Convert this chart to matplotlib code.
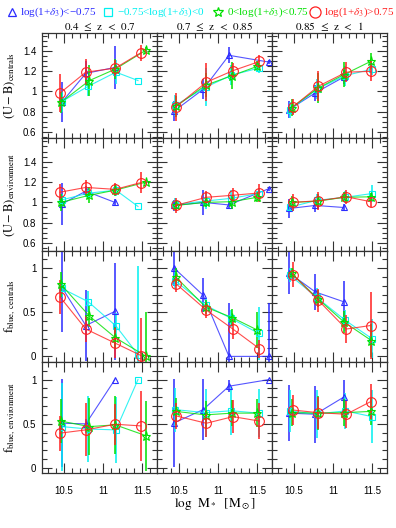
import matplotlib
matplotlib.use("Agg")
import matplotlib.pyplot as plt
from matplotlib.ticker import MultipleLocator

plt.rcParams['mathtext.fontset'] = 'stix'

# ---------------- data ----------------
series_names = [r'log(1+$\delta_3$)<−0.75',
                r'−0.75<log(1+$\delta_3$)<0',
                r'0<log(1+$\delta_3$)<0.75',
                r'log(1+$\delta_3$)>0.75']
col_titles = [r'$\mathrm{0.4\ \,\leq\ \,z\ \,<\ \,0.7}$',
              r'$\mathrm{0.7\ \,\leq\ \,z\ \,<\ \,0.85}$',
              r'$\mathrm{0.85\ \,\leq\ \,z\ \,<\ \,1}$']
row_labels = [r'$\mathrm{(U-B)_{centrals}}$',
              r'$\mathrm{(U-B)_{environment}}$',
              r'$\mathrm{f_{blue,\ centrals}}$',
              r'$\mathrm{f_{blue,\ environment}}$']

# stellar-mass positions, per series, per redshift column
x_blue = [[10.476, 10.78, 11.152], [10.44, 10.81, 11.14, 11.65], [10.44, 10.775, 11.134]]
x_cyan = [[10.476, 10.81, 11.165, 11.447], [10.45, 10.84, 11.17, 11.52], [10.45, 10.79, 11.155, 11.50]]
x_green = [[10.46, 10.826, 11.156, 11.553], [10.46, 10.84, 11.18, 11.50], [10.47, 10.805, 11.14, 11.49]]
x_red = [[10.45, 10.78, 11.156, 11.485], [10.46, 10.85, 11.19, 11.53], [10.49, 10.81, 11.17, 11.48]]

# (U-B) centrals
ubc_blue = [[0.895, 1.178, 1.237], [0.805, 1.02, 1.357, 1.29], [0.82, 0.986, 1.14]]
ubc_blue_e = [[0.2, 0.12, 0.21], [0.1, 0.1, 0.08, 0.02], [0.08, 0.08, 0.07]]
ubc_cyan = [[0.90, 1.05, 1.19, 1.107], [0.86, 1.04, 1.16, 1.23], [0.815, 1.02, 1.156, 1.22]]
ubc_cyan_e = [[0.1, 0.1, 0.12, 0.0], [0.1, 0.19, 0.1, 0.05], [0.08, 0.1, 0.1, 0.06]]
ubc_green = [[0.89, 1.107, 1.22, 1.41], [0.85, 1.06, 1.156, 1.247], [0.84, 1.03, 1.166, 1.30]]
ubc_green_e = [[0.1, 0.15, 0.1, 0.03], [0.1, 0.12, 0.13, 0.05], [0.08, 0.15, 0.12, 0.08]]
ubc_red = [[0.983, 1.19, 1.23, 1.383], [0.847, 1.09, 1.205, 1.296], [0.847, 1.05, 1.19, 1.198]]
ubc_red_e = [[0.19, 0.13, 0.08, 0.08], [0.14, 0.19, 0.08, 0.06], [0.08, 0.15, 0.1, 0.1]]

# (U-B) environment
ube_blue = [[0.985, 1.11, 1.0], [0.97, 1.0, 0.975, 1.135], [0.94, 0.97, 0.95]]
ube_blue_e = [[0.21, 0.05, 0.03], [0.05, 0.12, 0.03, 0.02], [0.09, 0.06, 0.03]]
ube_cyan = [[1.025, 1.09, 1.12, 0.96], [0.98, 1.013, 1.04, 1.087], [0.953, 1.02, 1.05, 1.087]]
ube_cyan_e = [[0.06, 0.06, 0.06, 0.0], [0.06, 0.08, 0.08, 0.05], [0.05, 0.06, 0.06, 0.08]]
ube_green = [[1.0, 1.07, 1.12, 1.2], [0.97, 1.0, 1.007, 1.05], [1.0, 1.012, 1.05, 1.055]]
ube_green_e = [[0.08, 0.08, 0.06, 0.02], [0.05, 0.05, 0.07, 0.05], [0.06, 0.07, 0.05, 0.04]]
ube_red = [[1.10, 1.147, 1.128, 1.195], [0.97, 1.05, 1.07, 1.093], [1.0, 1.016, 1.055, 1.007]]
ube_red_e = [[0.08, 0.07, 0.06, 0.1], [0.07, 0.06, 0.07, 0.09], [0.08, 0.09, 0.07, 0.05]]

# f_blue centrals
fbc_blue = [[0.78, 0.35, 0.51], [1.0, 0.693, 0.0, 0.0], [0.944, 0.73, 0.62]]
fbc_blue_e = [[0.5, 0.4, 0.55], [0.2, 0.19, 0.6, 0.6], [0.24, 0.2, 0.23]]
fbc_cyan = [[0.77, 0.62, 0.345, 0.02], [0.86, 0.58, 0.43, 0.26], [0.92, 0.67, 0.41, 0.2]]
fbc_cyan_e = [[0.1, 0.12, 0.15, 1.0], [0.1, 0.08, 0.1, 0.3], [0.08, 0.1, 0.12, 0.22]]
fbc_green = [[0.817, 0.457, 0.213, 0.0], [0.9, 0.56, 0.44, 0.30], [0.94, 0.655, 0.39, 0.18]]
fbc_green_e = [[0.14, 0.12, 0.12, 0.5], [0.1, 0.08, 0.1, 0.2], [0.06, 0.1, 0.12, 0.19]]
fbc_red = [[0.674, 0.31, 0.15, 0.01], [0.825, 0.525, 0.31, 0.087], [0.925, 0.637, 0.31, 0.35]]
fbc_red_e = [[0.19, 0.15, 0.17, 0.42], [0.1, 0.09, 0.11, 0.1], [0.14, 0.13, 0.16, 0.38]]

# f_blue environment
fbe_blue = [[0.506, 0.498, 1.0], [0.51, 0.66, 0.925, 1.0], [0.62, 0.607, 0.8]]
fbe_blue_e = [[0.5, 0.05, 0.0], [0.5, 0.35, 0.07, 0.0], [0.32, 0.32, 0.19]]
fbe_cyan = [[0.467, 0.44, 0.43, 1.0], [0.66, 0.625, 0.647, 0.62], [0.645, 0.61, 0.645, 0.58]]
fbe_cyan_e = [[0.5, 0.37, 0.37, 0.0], [0.25, 0.27, 0.27, 0.27], [0.24, 0.27, 0.2, 0.3]]
fbe_green = [[0.53, 0.467, 0.487, 0.363], [0.64, 0.6, 0.62, 0.62], [0.625, 0.62, 0.625, 0.64]]
fbe_green_e = [[0.25, 0.32, 0.33, 0.4], [0.15, 0.16, 0.15, 0.16], [0.15, 0.19, 0.15, 0.15]]
fbe_red = [[0.393, 0.43, 0.494, 0.475], [0.59, 0.505, 0.58, 0.53], [0.655, 0.625, 0.607, 0.75]]
fbe_red_e = [[0.2, 0.3, 0.23, 0.4], [0.15, 0.15, 0.19, 0.2], [0.17, 0.18, 0.15, 0.2]]

xticks = [10.5, 11, 11.5]
xticklabels = ['10.5', '11', '11.5']

# ---------------- styling ----------------
colors = ['#2b2bff', '#00f0f0', '#00e000', '#ff2020']
markers = ['^', 's', '*', 'o']
msizes = [5, 4.5, 6.5, 7]
xs = [x_blue, x_cyan, x_green, x_red]
rows = [
    ([ubc_blue, ubc_cyan, ubc_green, ubc_red], [ubc_blue_e, ubc_cyan_e, ubc_green_e, ubc_red_e]),
    ([ube_blue, ube_cyan, ube_green, ube_red], [ube_blue_e, ube_cyan_e, ube_green_e, ube_red_e]),
    ([fbc_blue, fbc_cyan, fbc_green, fbc_red], [fbc_blue_e, fbc_cyan_e, fbc_green_e, fbc_red_e]),
    ([fbe_blue, fbe_cyan, fbe_green, fbe_red], [fbe_blue_e, fbe_cyan_e, fbe_green_e, fbe_red_e]),
]
ylims = [(0.535, 1.575), (0.525, 1.63), (-0.067, 1.198), (-0.062, 1.196)]
yminor = [0.05, 0.05, 0.1, 0.1]
yticklabs = [['0.6', '0.8', '1', '1.2', '1.4'], ['0.6', '0.8', '1', '1.2', '1.4'],
             ['0', '0.5', '1'], ['0', '0.5', '1']]
ytickvals = [[0.6, 0.8, 1.0, 1.2, 1.4], [0.6, 0.8, 1.0, 1.2, 1.4], [0, 0.5, 1], [0, 0.5, 1]]

W, H = 396, 528
fig = plt.figure(figsize=(W / 100, H / 100), dpi=100)

col_x0 = [42, 157, 272]
col_w = 115
row_edges = [33.3, 138.3, 250.7, 362.3, 473.3]

tickfont = 'Liberation Sans'

for r in range(4):
    for c in range(3):
        top = row_edges[r]
        bot = row_edges[r + 1]
        ax = fig.add_axes([col_x0[c] / W, 1 - bot / H, col_w / W, (bot - top) / H])
        vals, errs = rows[r]
        for s in range(4):
            xv = xs[s][c]
            yv = vals[s][c]
            ev = errs[s][c]
            ax.errorbar(xv, yv, yerr=ev, fmt='none', ecolor=colors[s], elinewidth=1.3,
                        capsize=0, alpha=0.85, zorder=2 + s)
            ax.plot(xv, yv, '-', color=colors[s], lw=0.8, alpha=0.8, zorder=3 + s)
            ax.plot(xv, yv, linestyle='none', marker=markers[s], ms=msizes[s],
                    mfc='none', mec=colors[s], mew=0.8, zorder=4 + s)
        ax.set_xlim(10.22, 11.69)
        ax.set_ylim(*ylims[r])
        ax.set_xticks(xticks)
        ax.xaxis.set_minor_locator(MultipleLocator(0.1))
        ax.set_yticks(ytickvals[r])
        ax.yaxis.set_minor_locator(MultipleLocator(yminor[r]))
        ax.tick_params(which='both', direction='in', top=True, right=True,
                       color='#333333', width=0.8)
        ax.tick_params(which='major', length=7)
        ax.tick_params(which='minor', length=3.5)
        for sp in ax.spines.values():
            sp.set_color('#333333')
            sp.set_linewidth(0.9)
        if r == 3:
            ax.set_xticklabels(xticklabels, fontsize=7, family=tickfont)
            ax.tick_params(axis='x', pad=9)
        else:
            ax.set_xticklabels([])
        if c == 0:
            ax.set_yticklabels(yticklabs[r], fontsize=7, family=tickfont)
            ax.tick_params(axis='y', pad=4)
            ax.set_ylabel(row_labels[r], fontsize=9, labelpad=4)
        else:
            ax.set_yticklabels([])
        if r == 0:
            ax.set_title(col_titles[c], fontsize=8, pad=2.5)

# xlabel
fig.text(215 / W, 1 - 504 / H, r'$\mathrm{log\ \ M_*\ \ [M_\odot]}$', fontsize=9.5,
         ha='center', va='center')

# legend row at the top
leg_marker_x = [12, 108, 218, 315]
leg_text_x = [20, 117, 227, 324]
leg_y = 12
for s in range(4):
    fig.lines.append(plt.Line2D([leg_marker_x[s] / W], [1 - leg_y / H], marker=markers[s],
                                ms=msizes[s] + 1, mfc='none', mec=colors[s], mew=0.9,
                                linestyle='none', transform=fig.transFigure))
    fig.text(leg_text_x[s] / W, 1 - leg_y / H, series_names[s], color=colors[s],
             fontsize=8, ha='left', va='center', family='Liberation Serif')

fig.savefig('out.png', dpi=100)
